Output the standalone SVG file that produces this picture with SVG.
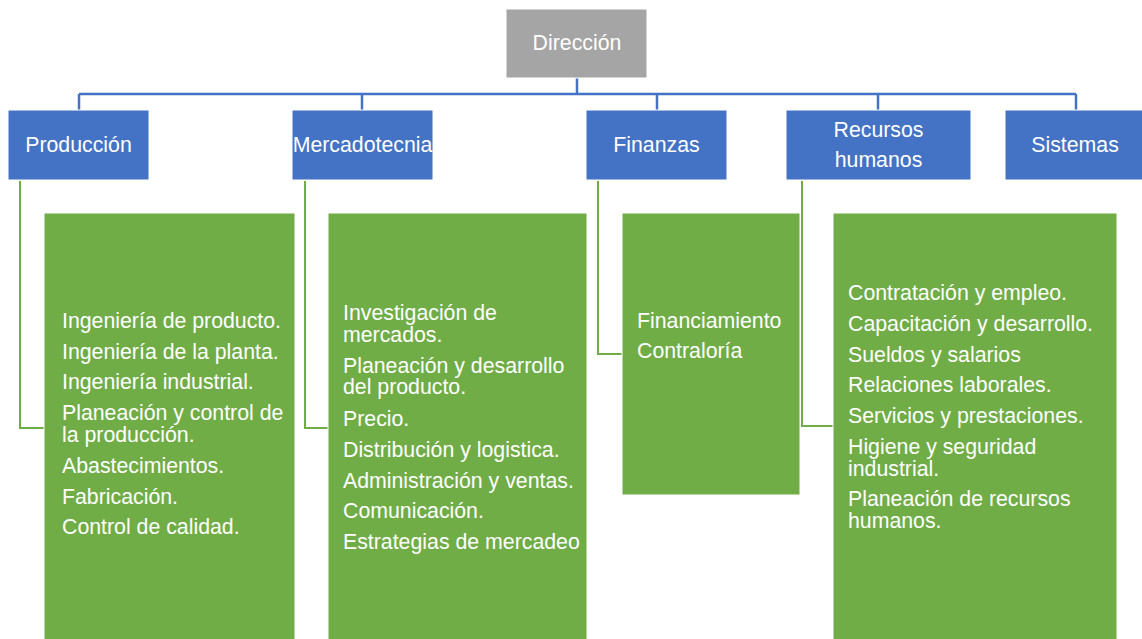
<svg xmlns="http://www.w3.org/2000/svg" width="1142" height="639" viewBox="0 0 1142 639">
<style>
  .top { fill: #A5A5A5; stroke: #ffffff; stroke-width: 1; }
  .dept { fill: #4472C4; stroke: #ffffff; stroke-width: 1; }
  .detail { fill: #70AD47; stroke: #ffffff; stroke-width: 1; }
  .lbl { font-family: "Liberation Sans", Arial, sans-serif; font-size: 21.3px; fill: #ffffff; }
  .c { text-anchor: middle; }
  .blue { fill: none; stroke: #4472C4; stroke-width: 2.5; }
  .green { fill: none; stroke: #70AD47; stroke-width: 2; }
</style>
<rect width="1142" height="639" fill="#ffffff"/>
<g id="connectors">
  <path class="blue" d="M577 78 V94 M79 94 H1076 M79 94 V110 M362 94 V110 M657 94 V110 M878 94 V110 M1076 94 V110"/>
  <path class="green" d="M20 181 V428 H44"/>
  <path class="green" d="M305 181 V428 H328"/>
  <path class="green" d="M598 181 V354 H622"/>
  <path class="green" d="M802 181 V426 H833"/>
</g>
<g id="direccion">
  <rect class="top" x="506" y="9" width="141" height="69"/>
  <text class="lbl c" x="577" y="50">Dirección</text>
</g>
<g id="produccion">
  <rect class="dept" x="8" y="110" width="141" height="70"/>
  <text class="lbl c" x="78.5" y="152">Producción</text>
</g>
<g id="mercadotecnia">
  <rect class="dept" x="292" y="110" width="141" height="70"/>
  <text class="lbl c" x="362.5" y="152">Mercadotecnia</text>
</g>
<g id="finanzas">
  <rect class="dept" x="586" y="110" width="141" height="70"/>
  <text class="lbl c" x="656.5" y="152">Finanzas</text>
</g>
<g id="recursos-humanos">
  <rect class="dept" x="786" y="110" width="185" height="70"/>
  <text class="lbl c" x="878.5" y="137">Recursos</text>
  <text class="lbl c" x="878.5" y="167">humanos</text>
</g>
<g id="sistemas">
  <rect class="dept" x="1005" y="110" width="141" height="70"/>
  <text class="lbl c" x="1075" y="152">Sistemas</text>
</g>
<g id="produccion-detalle">
  <rect class="detail" x="44" y="213" width="251" height="430"/>
  <text class="lbl" x="62" y="328">Ingeniería de producto.</text>
  <text class="lbl" x="62" y="358.5">Ingeniería de la planta.</text>
  <text class="lbl" x="62" y="389">Ingeniería industrial.</text>
  <text class="lbl" x="62" y="420">Planeación y control de</text>
  <text class="lbl" x="62" y="442">la producción.</text>
  <text class="lbl" x="62" y="473">Abastecimientos.</text>
  <text class="lbl" x="62" y="503.5">Fabricación.</text>
  <text class="lbl" x="62" y="533.5">Control de calidad.</text>
</g>
<g id="mercadotecnia-detalle">
  <rect class="detail" x="328" y="213" width="259" height="430"/>
  <text class="lbl" x="343" y="319.5">Investigación de</text>
  <text class="lbl" x="343" y="341.5">mercados.</text>
  <text class="lbl" x="343" y="372.5">Planeación y desarrollo</text>
  <text class="lbl" x="343" y="394">del producto.</text>
  <text class="lbl" x="343" y="426">Precio.</text>
  <text class="lbl" x="343" y="457">Distribución y logistica.</text>
  <text class="lbl" x="343" y="487.5">Administración y ventas.</text>
  <text class="lbl" x="343" y="518">Comunicación.</text>
  <text class="lbl" x="343" y="549">Estrategias de mercadeo</text>
</g>
<g id="finanzas-detalle">
  <rect class="detail" x="622" y="213" width="178" height="282"/>
  <text class="lbl" x="637" y="328">Financiamiento</text>
  <text class="lbl" x="637" y="358">Contraloría</text>
</g>
<g id="recursos-humanos-detalle">
  <rect class="detail" x="833" y="213" width="284" height="430"/>
  <text class="lbl" x="848" y="300">Contratación y empleo.</text>
  <text class="lbl" x="848" y="331">Capacitación y desarrollo.</text>
  <text class="lbl" x="848" y="361.5">Sueldos y salarios</text>
  <text class="lbl" x="848" y="392">Relaciones laborales.</text>
  <text class="lbl" x="848" y="422.5">Servicios y prestaciones.</text>
  <text class="lbl" x="848" y="454">Higiene y seguridad</text>
  <text class="lbl" x="848" y="476">industrial.</text>
  <text class="lbl" x="848" y="506">Planeación de recursos</text>
  <text class="lbl" x="848" y="528">humanos.</text>
</g>
</svg>
